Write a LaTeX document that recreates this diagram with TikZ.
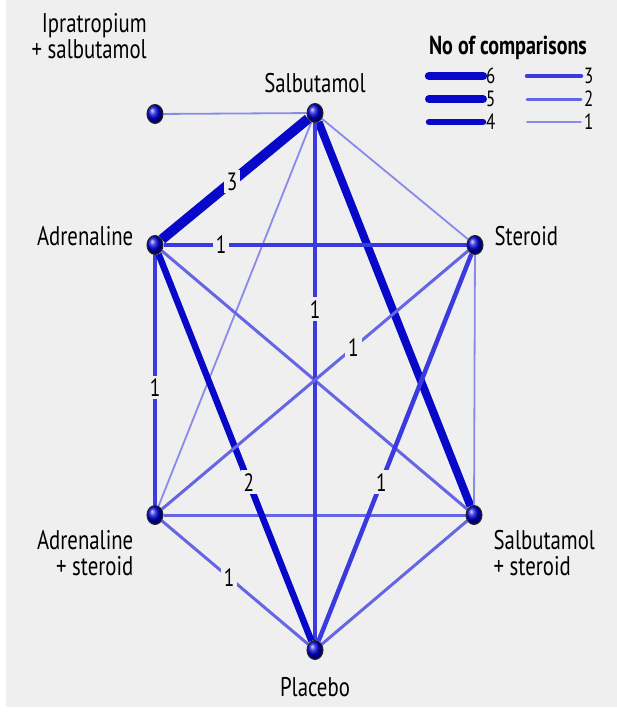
\documentclass[tikz,border=0pt]{standalone}
\usepackage{fontspec}
\setmainfont{PT Sans}[FakeStretch=0.77]
\usetikzlibrary{positioning,shapes.geometric}

\definecolor{bgc}{RGB}{239,239,239}
\definecolor{cdark}{RGB}{8,8,200}
\definecolor{cmid}{RGB}{58,58,222}
\definecolor{clight}{RGB}{102,102,228}
\definecolor{cthin}{RGB}{138,138,234}

\pgfdeclarelayer{bottom}
\pgfdeclarelayer{edges}
\pgfsetlayers{bottom,edges,main}

\begin{document}
\begin{tikzpicture}[
  x=1pt, y=-1pt,
  drug/.style={ellipse, minimum width=16pt, minimum height=19pt, inner sep=0pt, draw=black!85, line width=1pt, ball color=blue!85!black},
  txt/.style={inner sep=2pt, font=\fontsize{27}{26}\selectfont},
  lbl/.style={fill=bgc, inner sep=3pt, font=\fontsize{25}{24}\selectfont},
  keynum/.style={inner sep=0pt, anchor=west, font=\fontsize{22}{20}\selectfont},
  n1/.style={draw=cthin, line width=1.8pt},
  n2/.style={draw=clight, line width=3pt},
  n3/.style={draw=cmid, line width=4.5pt},
  n4/.style={draw=cdark, line width=6.5pt},
  n5/.style={draw=cdark, line width=8pt},
  n6/.style={draw=cdark, line width=10pt},
  key/.style={line cap=round, shorten >=3pt}
]
\useasboundingbox (0,0) rectangle (617,721);
\begin{pgfonlayer}{bottom}
\fill[white] (0,0) rectangle (617,721);
\fill[bgc] (6,0) rectangle (617,707);
\end{pgfonlayer}

% treatments
\node[drug] (iprat) at (155,114) {};
\node[drug] (salb) at (315,113) {};
\node[drug] (adr) at (155,245) {};
\node[drug] (ster) at (475,245) {};
\node[drug] (adrst) at (155,515) {};
\node[drug] (salbst) at (474,515) {};
\node[drug] (plac) at (315,650) {};

\node[txt, align=right, above left=46pt and 0pt of iprat] (iprat-lbl) {Ipratropium\\+ salbutamol};
\node[txt, above=8pt of salb] (salb-lbl) {Salbutamol};
\node[txt, left=11pt of adr, yshift=9pt] (adr-lbl) {Adrenaline};
\node[txt, right=9pt of ster, yshift=9pt] (ster-lbl) {Steroid};
\node[txt, align=right, left=11pt of adrst, yshift=-38pt] (adrst-lbl) {Adrenaline\\+ steroid};
\node[txt, align=left, right=9pt of salbst, yshift=-38pt] (salbst-lbl) {Salbutamol\\+ steroid};
\node[txt, below=15pt of plac] (plac-lbl) {Placebo};

% comparisons
\begin{pgfonlayer}{edges}
\draw[n1] (iprat) -- (salb);
\draw[n1] (salb) -- (ster);
\draw[n1] (salb) -- (adrst);
\draw[n5] (salb) -- (salbst);
\draw[n2] (adr) -- (salbst);
\draw[n1] (ster) -- (salbst);
\draw[n2] (adrst) -- (salbst);
\draw[n2] (salbst) -- (plac);
\draw[n6] (salb) -- node[lbl, pos=0.52] {3} (adr);
\draw[n3] (salb) -- node[lbl, pos=0.36] {1} (plac);
\draw[n3] (adr) -- node[lbl, pos=0.19] {1} (ster);
\draw[n3] (adr) -- node[lbl, pos=0.53] {1} (adrst);
\draw[n4] (adr) -- node[lbl, pos=0.59] {2} (plac);
\draw[n2] (adrst) -- node[lbl, pos=0.625] {1} (ster);
\draw[n3] (ster) -- node[lbl, pos=0.59] {1} (plac);
\draw[n2] (adrst) -- node[lbl, pos=0.46] {1} (plac);
\end{pgfonlayer}

% key
\node[txt, font=\fontsize{26}{26}\selectfont\bfseries] (key-title) at (508,48) {No of comparisons};
\node[keynum] (k6) at (486,76) {6};
\node[keynum] (k5) at (486,99) {5};
\node[keynum] (k4) at (486,122) {4};
\node[keynum] (k3) at (584,76) {3};
\node[keynum] (k2) at (584,99) {2};
\node[keynum] (k1) at (584,122) {1};
\coordinate (k6s) at (429,76);
\coordinate (k5s) at (429,99);
\coordinate (k4s) at (429,122);
\coordinate (k3s) at (527,76);
\coordinate (k2s) at (527,99);
\coordinate (k1s) at (527,122);
\draw[key, line width=8.5pt, cdark] (k6s) -- (k6.west);
\draw[key, line width=8pt, cdark] (k5s) -- (k5.west);
\draw[key, line width=6.5pt, cdark] (k4s) -- (k4.west);
\draw[key, line width=4.5pt, cmid] (k3s) -- (k3.west);
\draw[key, line width=3pt, clight] (k2s) -- (k2.west);
\draw[key, line width=1.8pt, cthin] (k1s) -- (k1.west);
\end{tikzpicture}
\end{document}
